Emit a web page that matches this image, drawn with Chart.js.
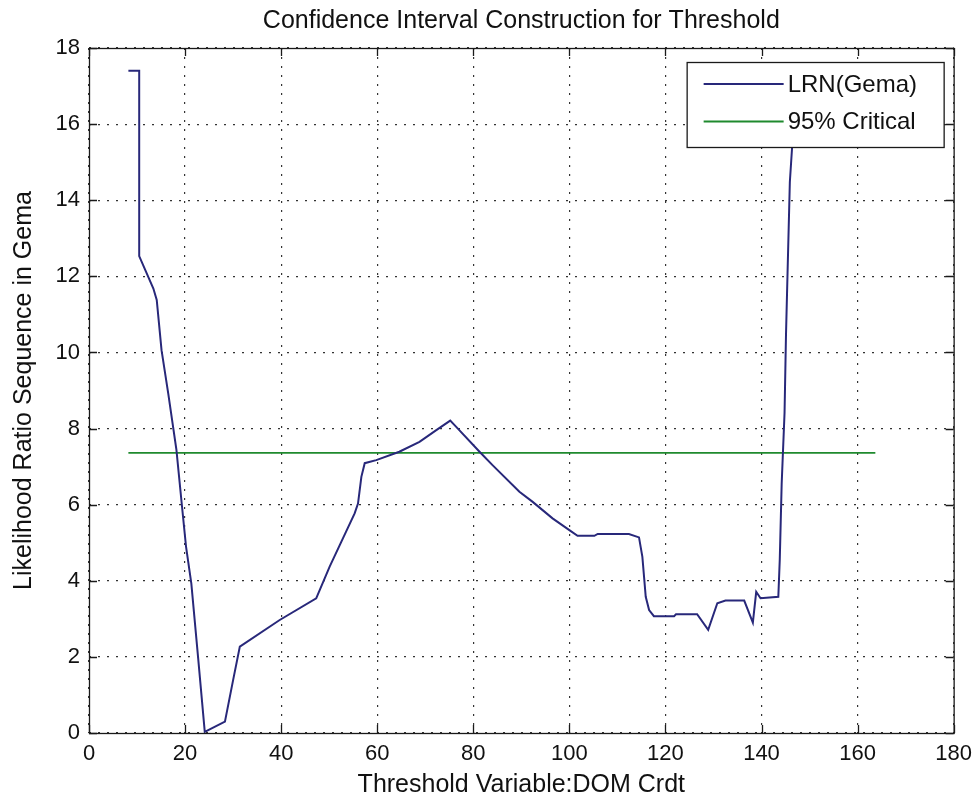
<!DOCTYPE html>
<html>
<head>
<meta charset="utf-8">
<script src="https://cdn.jsdelivr.net/npm/chart.js@4.4.1/dist/chart.umd.min.js"></script>
<style>
    html, body { margin: 0; padding: 0; background: #ffffff; }
    #wrap { width: 980px; height: 803px; }
</style>
</head>
<body>
<div id="wrap"><canvas id="ciChart"></canvas></div>
<script>
// threshold grid + likelihood ratio
const lrnThreshold = [8.2, 10.45, 10.45, 13.4, 14.1, 15.1, 16.5, 18.2, 19.3, 20.2, 21.3, 22.7, 24.1,
    28.3, 30.0, 31.4, 39.7, 47.3, 50.1, 55.3, 56.0, 56.7, 57.4, 59.8, 64.6, 68.8, 72.3, 75.2, 76.4,
    81.3, 84.0, 89.6, 92.3, 96.5, 100.0, 101.7, 105.2, 105.9, 112.4, 114.5, 115.2, 115.9, 116.6,
    117.6, 121.8, 122.2, 126.6, 128.9, 130.8, 132.5, 136.4, 138.2, 138.9, 139.8, 143.5, 143.8,
    144.2, 144.8, 145.1, 145.5, 145.9, 146.4, 147.0];
const lrnValues = [17.4, 17.4, 12.53, 11.68, 11.38, 10.06, 8.92, 7.44, 6.03, 4.9, 3.93, 2.0, 0.03,
    0.3, 1.39, 2.27, 2.97, 3.54, 4.37, 5.77, 6.03, 6.73, 7.09, 7.17, 7.39, 7.65, 7.96, 8.21, 8.05,
    7.39, 7.04, 6.34, 6.08, 5.64, 5.33, 5.18, 5.18, 5.23, 5.23, 5.14, 4.63, 3.58, 3.23,
    3.07, 3.07, 3.12, 3.12, 2.71, 3.41, 3.48, 3.48, 2.9, 3.71, 3.54, 3.58, 4.55,
    6.55, 8.42, 10.48, 12.48, 14.48, 15.45, 17.4];

const criticalThreshold = [8.2, 163.7];
const criticalValues = [7.36, 7.36];

const xTicks = [0, 20, 40, 60, 80, 100, 120, 140, 160, 180];
const yTicks = [0, 2, 4, 6, 8, 10, 12, 14, 16, 18];

const seriesLabels = ['LRN(Gema)', '95% Critical'];
const seriesColors = ['#28287a', '#1f8a2e'];

const FONT = '"Liberation Sans", Arial, sans-serif';

function toPoints(xs, ys) {
    return xs.map((x, i) => ({ x: x, y: ys[i] }));
}

// matlab style box with inward ticks on all four sides
const boxPlugin = {
    id: 'matlabBox',
    afterDatasetsDraw(chart) {
        const { ctx, chartArea: a, scales } = chart;
        const len = 8;
        ctx.save();
        ctx.strokeStyle = '#1a1a1a';
        ctx.lineWidth = 1.3;
        ctx.beginPath();
        xTicks.forEach(v => {
            const px = Math.round(scales.x.getPixelForValue(v)) + 0.5;
            ctx.moveTo(px, a.bottom); ctx.lineTo(px, a.bottom - len);
            ctx.moveTo(px, a.top); ctx.lineTo(px, a.top + len);
        });
        yTicks.forEach(v => {
            const py = Math.round(scales.y.getPixelForValue(v)) + 0.5;
            ctx.moveTo(a.left, py); ctx.lineTo(a.left + len, py);
            ctx.moveTo(a.right, py); ctx.lineTo(a.right - len, py);
        });
        ctx.stroke();
        ctx.strokeRect(a.left + 0.5, a.top + 0.5, a.right - a.left, a.bottom - a.top);
        ctx.restore();
    }
};

// legend box drawn inside the axes, over the data like matlab does
const insideLegend = {
    id: 'insideLegend',
    afterDatasetsDraw(chart) {
        const { ctx, chartArea: a } = chart;
        const w = 257, h = 85;
        const left = a.right - 10 - w, top = a.top + 14;
        ctx.save();
        ctx.fillStyle = '#ffffff';
        ctx.fillRect(left, top, w, h);
        ctx.strokeStyle = '#1a1a1a';
        ctx.lineWidth = 1.3;
        ctx.strokeRect(left + 0.5, top + 0.5, w, h);
        ctx.font = '24px ' + FONT;
        ctx.textBaseline = 'middle';
        seriesLabels.forEach((lbl, i) => {
            const y = top + 22 + i * 37.5;
            ctx.strokeStyle = seriesColors[i];
            ctx.lineWidth = 1.8;
            ctx.beginPath();
            ctx.moveTo(left + 17, y);
            ctx.lineTo(left + 97, y);
            ctx.stroke();
            ctx.fillStyle = '#111111';
            ctx.fillText(lbl, left + 101, y + 1);
        });
        ctx.restore();
    }
};

const ctx = document.getElementById('ciChart').getContext('2d');
new Chart(ctx, {
    type: 'line',
    data: {
        datasets: [
            {
                label: seriesLabels[0],
                data: toPoints(lrnThreshold, lrnValues),
                borderColor: seriesColors[0],
                borderWidth: 2,
                pointRadius: 0,
                tension: 0,
                fill: false
            },
            {
                label: seriesLabels[1],
                data: toPoints(criticalThreshold, criticalValues),
                borderColor: seriesColors[1],
                borderWidth: 1.8,
                pointRadius: 0,
                tension: 0,
                fill: false
            }
        ]
    },
    options: {
        responsive: true,
        maintainAspectRatio: false,
        animation: false,
        layout: { padding: { left: 0, right: 25, top: 0, bottom: 0 } },
        plugins: {
            legend: { display: false },
            tooltip: { enabled: false },
            title: {
                display: true,
                fullSize: false,
                text: 'Confidence Interval Construction for Threshold',
                color: '#111111',
                font: { family: FONT, size: 25, weight: 'normal' },
                padding: { top: 6, bottom: 12 }
            }
        },
        scales: {
            x: {
                type: 'linear',
                min: 0,
                max: 180,
                afterFit: s => { s.height = 70; },
                afterBuildTicks: s => { s.ticks = xTicks.map(v => ({ value: v })); },
                ticks: {
                    color: '#111111',
                    padding: 8,
                    maxRotation: 0,
                    font: { family: FONT, size: 22 }
                },
                grid: { color: '#333333', lineWidth: 1.2, drawTicks: false },
                border: { display: false, dash: [2, 7] },
                title: {
                    display: true,
                    text: 'Threshold Variable:DOM Crdt',
                    color: '#111111',
                    font: { family: FONT, size: 25 },
                    padding: { top: 0, bottom: 3 }
                }
            },
            y: {
                type: 'linear',
                min: 0,
                max: 18,
                afterFit: s => { s.width = 89; },
                afterBuildTicks: s => { s.ticks = yTicks.map(v => ({ value: v })); },
                ticks: {
                    color: '#111111',
                    padding: 9,
                    font: { family: FONT, size: 22 }
                },
                grid: { color: '#333333', lineWidth: 1.2, drawTicks: false },
                border: { display: false, dash: [2, 7] },
                title: {
                    display: true,
                    text: 'Likelihood Ratio Sequence in Gema',
                    color: '#111111',
                    font: { family: FONT, size: 25 },
                    padding: { top: 9, bottom: 0 }
                }
            }
        }
    },
    plugins: [boxPlugin, insideLegend]
});
</script>
</body>
</html>
